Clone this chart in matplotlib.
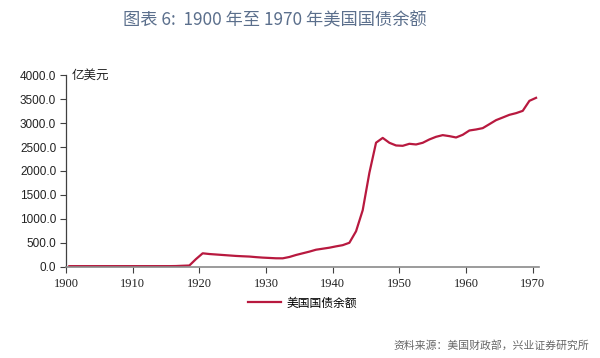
import matplotlib
matplotlib.use("Agg")
import matplotlib.pyplot as plt
import numpy as np

years = list(range(1900, 1971))
debt = [12, 12, 12, 12, 12, 12, 12, 12, 12, 12,
        12, 12, 12, 12, 12, 12, 14, 20, 25, 160,
        280, 265, 255, 245, 235, 225, 218, 212, 200, 190,
        183, 176, 175, 203, 245, 280, 315, 355, 376, 397,
        425, 450, 500, 740, 1180, 1960, 2590, 2690, 2588, 2532,
        2525, 2567, 2553, 2588, 2658, 2713, 2748, 2727, 2699, 2755,
        2845, 2866, 2894, 2977, 3061, 3116, 3172, 3207, 3255, 3464,
        3527]
yticks = [0, 500, 1000, 1500, 2000, 2500, 3000, 3500, 4000]
xticks = [1900, 1910, 1920, 1930, 1940, 1950, 1960, 1970]
series_name = "美国国债余额"
unit = "亿美元"
title = "图表 6:  1900 年至 1970 年美国国债余额"
source = "资料来源：美国财政部，兴业证券研究所"

cjk = ["Noto Sans CJK SC", "DejaVu Sans"]

fig = plt.figure(figsize=(6.0, 3.58), dpi=100)
ax = fig.add_axes([0.11, 0.255, 0.789, 0.535])

x = np.array(years) + 0.5
ax.plot(x, debt, color="#b8193f", lw=1.6, label=series_name, solid_joinstyle="round")

ax.set_xlim(1900, 1971)
ax.set_ylim(0, 4000)
ax.set_yticks(yticks)
ax.set_yticklabels([f"{v:.1f}" for v in yticks], family="Liberation Sans", fontsize=8.5, color="#222222")
ax.set_xticks(xticks)
ax.set_xticklabels([str(v) for v in xticks], family="Liberation Serif", fontsize=9, color="#222222")

for s in ["top", "right"]:
    ax.spines[s].set_visible(False)
ax.spines["left"].set_color("#404040")
ax.spines["bottom"].set_color("#8a8a8a")
ax.spines["left"].set_linewidth(0.9)
ax.spines["bottom"].set_linewidth(1.2)
ax.tick_params(axis="y", direction="out", length=4, width=0.8, color="#404040", pad=3)
ax.tick_params(axis="x", direction="out", length=4, width=0.8, color="#404040", pad=4)

ax.text(0.012, 1.0, unit, transform=ax.transAxes, family=cjk, fontsize=9,
        va="center", ha="left", color="#222222")

leg = ax.legend(loc="upper center", bbox_to_anchor=(0.5, -0.1), frameon=False,
                prop={"family": cjk, "size": 8.5}, handlelength=2.8, handletextpad=0.5)

fig.text(0.458, 0.944, title, family=cjk, fontsize=12.4, color="#5b6f8c",
         ha="center", va="center")
fig.text(0.655, 0.036, source, family=cjk, fontsize=7.8, color="#666666",
         ha="left", va="center")

fig.savefig("out.png", dpi=100)
